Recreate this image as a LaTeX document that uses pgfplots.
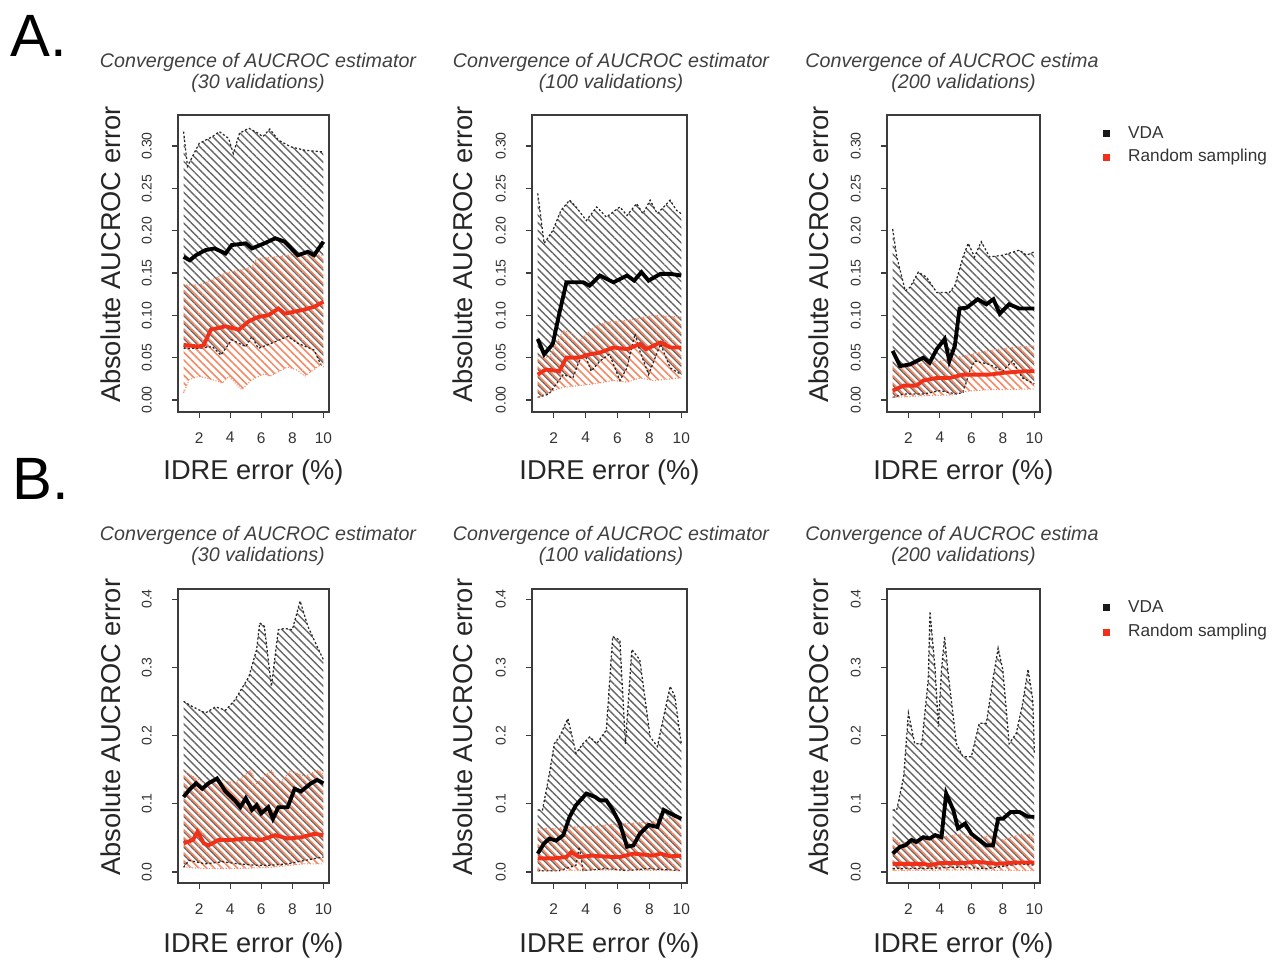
\documentclass[border=0pt]{standalone}
\usepackage{pgfplots}
\pgfplotsset{compat=1.18}
\usepgfplotslibrary{fillbetween}
\usetikzlibrary{patterns.meta}
\usepackage{fontspec}
\setmainfont{Liberation Sans}

\definecolor{rline}{RGB}{240,48,24}
\definecolor{rhatch}{RGB}{244,136,100}
\definecolor{frame}{RGB}{60,60,60}

\pgfplotsset{
  panel/.style={
    scale only axis, anchor=south west, height=5.94cm,
    xmin=0.64, xmax=10.36, xtick={2,4,6,8,10},
    axis line style={frame, line width=0.6pt},
    tick style={frame, line width=0.6pt},
    tick align=outside, major tick length=0.12cm,
    xtick pos=bottom, ytick pos=left,
    /pgf/number format/assume math mode=true,
    xticklabel style={font=\fontsize{8.8}{9}\selectfont, text=black!80, anchor=north, inner sep=0pt},
    yticklabel style={font=\fontsize{8}{8}\selectfont, text=black!80, rotate=90, anchor=south, inner sep=0pt},
    xticklabel shift=0.28cm, yticklabel shift=0.4cm,
    xlabel={IDRE error (\%)}, ylabel={Absolute AUCROC error},
    label style={font=\fontsize{15.5}{17}\selectfont, text=black!85},
    ylabel style={at={(axis description cs:-0.445,0.53)}, anchor=center},
    xlabel style={at={(axis description cs:0.5,-0.205)}, anchor=center},
  },
  rowA/.style={ymin=-0.0142, ymax=0.3366, ytick={0,0.05,0.1,0.15,0.2,0.25,0.3},
    y tick label style={/pgf/number format/.cd, fixed, fixed zerofill, precision=2}},
  rowB/.style={height=5.88cm, ymin=-0.0161, ymax=0.4147, ytick={0,0.1,0.2,0.3,0.4},
    y tick label style={/pgf/number format/.cd, fixed, fixed zerofill, precision=1},
    xlabel style={at={(axis description cs:0.5,-0.212)}}},
  bedge/.style={densely dashed, black!85, line width=0.7pt, dash pattern=on 1.2pt off 1.2pt},
  redge/.style={densely dotted, rhatch, line width=0.6pt},
  bhatch/.style={pattern={Lines[angle=-45,distance=3.1pt,line width=0.8pt]}, pattern color=black!60},
  rhatchs/.style={pattern={Lines[angle=-45,distance=3.1pt,line width=0.9pt,yshift=1.1pt]}, pattern color=rhatch},
  bmean/.style={black, line width=2.2pt},
  rmean/.style={rline, line width=2.2pt},
}

\tikzset{
  ttl/.style={font=\fontsize{11.2}{11.95}\selectfont\itshape, text=black!75, align=center},
  leg/.style={font=\fontsize{9.8}{11}\selectfont, text=black!80, anchor=west},
}

\begin{document}
\begin{tikzpicture}

% ---------- row A ----------
\begin{axis}[panel, rowA, at={(3.56cm,-8.24cm)}, width=3.02cm]
\addplot[bedge, name path=bu] coordinates {(1,0.317)(1.25,0.276)(2,0.303)(2.85,0.311)(3.3,0.317)(3.9,0.309)(4.2,0.291)(4.6,0.315)(5.2,0.321)(5.8,0.315)(6.1,0.311)(6.55,0.320)(7.1,0.307)(7.9,0.299)(8.8,0.295)(10,0.293)};
\addplot[bedge, name path=bl] coordinates {(1,0.061)(2,0.061)(2.85,0.063)(3.4,0.053)(4.1,0.071)(5,0.063)(5.4,0.075)(5.8,0.061)(6.4,0.065)(7.7,0.075)(8.35,0.067)(9.4,0.059)(9.8,0.043)(10,0.039)};
\addplot[bhatch] fill between[of=bu and bl];
\addplot[redge, name path=ru] coordinates {(1,0.136)(2,0.136)(2.85,0.142)(3.7,0.150)(4.75,0.154)(5.4,0.157)(5.7,0.167)(6.9,0.169)(8.6,0.173)(10,0.171)};
\addplot[redge, name path=rl] coordinates {(1,0.008)(1.35,0.024)(2,0.028)(2.85,0.024)(3.5,0.020)(3.9,0.028)(4.75,0.012)(5.4,0.024)(6.2,0.031)(6.55,0.028)(7.7,0.039)(8.35,0.035)(8.8,0.028)(9.6,0.039)(10,0.043)};
\addplot[rhatchs] fill between[of=ru and rl];
\addplot[bmean] coordinates {(1,0.169)(1.4,0.165)(1.8,0.171)(2.4,0.177)(3,0.179)(3.7,0.173)(4.1,0.183)(5,0.185)(5.4,0.179)(6.2,0.185)(6.9,0.191)(7.5,0.187)(8.35,0.171)(9,0.175)(9.4,0.171)(10,0.187)};
\addplot[rmean] coordinates {(1,0.065)(2,0.063)(2.3,0.065)(2.75,0.083)(3.7,0.087)(4.55,0.083)(5.2,0.093)(5.8,0.098)(6.45,0.100)(7.1,0.108)(7.5,0.102)(8.6,0.106)(9.4,0.110)(10,0.116)};
\end{axis}

\begin{axis}[panel, rowA, at={(10.64cm,-8.24cm)}, width=3.10cm]
\addplot[bedge, name path=bu] coordinates {(1,0.244)(1.4,0.185)(1.94,0.200)(2.46,0.224)(3,0.236)(3.4,0.228)(4.05,0.212)(4.7,0.228)(5.3,0.216)(6.15,0.228)(6.6,0.218)(7.2,0.232)(7.6,0.220)(8.05,0.236)(8.5,0.220)(9.3,0.236)(9.7,0.224)(10,0.220)};
\addplot[bedge, name path=bl] coordinates {(1,0.003)(1.7,0.007)(2.6,0.030)(3.2,0.026)(3.6,0.046)(3.95,0.054)(4.35,0.034)(4.9,0.046)(5.5,0.054)(6.15,0.023)(6.6,0.038)(7.1,0.078)(7.4,0.058)(7.95,0.030)(8.7,0.066)(9.3,0.038)(10,0.030)};
\addplot[bhatch] fill between[of=bu and bl];
\addplot[redge, name path=ru] coordinates {(1,0.052)(1.7,0.050)(2.6,0.082)(3.2,0.078)(3.6,0.070)(4.5,0.086)(5.3,0.092)(6.6,0.094)(8.25,0.100)(10,0.098)};
\addplot[redge, name path=rl] coordinates {(1,0.003)(1.7,0.009)(2.6,0.015)(3.6,0.017)(4.5,0.019)(5.75,0.023)(6.6,0.021)(7.4,0.026)(8.25,0.023)(10,0.026)};
\addplot[rhatchs] fill between[of=ru and rl];
\addplot[bmean] coordinates {(1,0.072)(1.4,0.054)(1.94,0.066)(2.35,0.102)(2.8,0.139)(3.85,0.139)(4.25,0.135)(4.9,0.147)(5.75,0.139)(6.6,0.147)(7.05,0.141)(7.5,0.151)(7.95,0.141)(8.7,0.149)(9.3,0.149)(10,0.147)};
\addplot[rmean] coordinates {(1,0.030)(1.5,0.036)(2.35,0.034)(2.8,0.050)(3.6,0.050)(4.25,0.054)(4.9,0.056)(5.75,0.062)(6.6,0.060)(7.4,0.066)(7.8,0.060)(8.7,0.068)(9.3,0.062)(10,0.062)};
\end{axis}

\begin{axis}[panel, rowA, at={(17.74cm,-8.24cm)}, width=3.06cm]
\addplot[bedge, name path=bu] coordinates {(1,0.202)(1.26,0.169)(1.8,0.129)(2.1,0.133)(2.63,0.151)(3.15,0.145)(3.8,0.127)(4.6,0.127)(4.95,0.135)(5.47,0.169)(5.8,0.185)(6.2,0.169)(6.63,0.187)(7.15,0.169)(8,0.171)(9.05,0.177)(9.5,0.171)(10,0.175)};
\addplot[bedge, name path=bl] coordinates {(1,0.003)(1.7,0.007)(2.95,0.007)(4,0.011)(5.05,0.007)(5.47,0.009)(5.9,0.034)(6.2,0.046)(7.15,0.042)(8,0.034)(8.6,0.046)(9.25,0.026)(10,0.019)};
\addplot[bhatch] fill between[of=bu and bl];
\addplot[redge, name path=ru] coordinates {(1,0.040)(2,0.040)(3,0.044)(4,0.046)(5.5,0.052)(7,0.058)(8.5,0.062)(10,0.064)};
\addplot[redge, name path=rl] coordinates {(1,0.003)(3,0.005)(4.8,0.006)(5.5,0.010)(7,0.012)(10,0.013)};
\addplot[rhatchs] fill between[of=ru and rl];
\addplot[bmean] coordinates {(1,0.058)(1.47,0.040)(2.1,0.042)(2.95,0.050)(3.35,0.044)(3.8,0.060)(4.3,0.072)(4.6,0.046)(4.95,0.064)(5.25,0.108)(5.7,0.109)(6.4,0.119)(6.95,0.113)(7.4,0.119)(7.8,0.102)(8.4,0.113)(9.05,0.108)(10,0.108)};
\addplot[rmean] coordinates {(1,0.011)(1.7,0.017)(2.5,0.017)(2.95,0.023)(3.8,0.026)(4.6,0.026)(5.5,0.030)(7.15,0.030)(8,0.032)(9.4,0.034)(10,0.034)};
\end{axis}

% ---------- row B ----------
\begin{axis}[panel, rowB, at={(3.56cm,-17.66cm)}, width=3.02cm]
\addplot[bedge, name path=bu] coordinates {(1,0.250)(1.6,0.242)(2.4,0.233)(3.06,0.242)(3.7,0.237)(4.3,0.252)(5.2,0.286)(5.7,0.326)(5.9,0.365)(6.2,0.360)(6.65,0.272)(7.1,0.355)(7.5,0.357)(8,0.355)(8.5,0.397)(9,0.360)(9.4,0.340)(10,0.311)};
\addplot[bedge, name path=bl] coordinates {(1,0.007)(1.35,0.017)(2.4,0.012)(3.5,0.015)(4.5,0.012)(5.6,0.010)(6.65,0.010)(7.7,0.012)(8.8,0.017)(10,0.022)};
\addplot[bhatch] fill between[of=bu and bl];
\addplot[redge, name path=ru] coordinates {(1,0.149)(1.6,0.140)(2.4,0.130)(3.5,0.135)(4.3,0.130)(5.3,0.149)(5.7,0.130)(6.65,0.149)(7.2,0.130)(7.9,0.149)(8.8,0.140)(9.6,0.149)(10,0.144)};
\addplot[redge, name path=rl] coordinates {(1,0.007)(2.4,0.005)(4.5,0.005)(6.65,0.007)(8.8,0.012)(10,0.012)};
\addplot[rhatchs] fill between[of=ru and rl];
\addplot[bmean] coordinates {(1,0.110)(1.35,0.120)(1.8,0.130)(2.2,0.122)(2.6,0.130)(3.15,0.137)(3.7,0.118)(4.3,0.105)(4.65,0.095)(5,0.108)(5.4,0.091)(5.7,0.098)(6,0.086)(6.45,0.095)(6.75,0.078)(7.1,0.095)(7.7,0.095)(8.15,0.122)(8.55,0.118)(9.2,0.130)(9.6,0.135)(10,0.130)};
\addplot[rmean] coordinates {(1,0.042)(1.6,0.047)(1.9,0.059)(2.3,0.042)(2.6,0.039)(3.25,0.047)(4.1,0.047)(5,0.049)(6,0.047)(6.9,0.054)(7.7,0.049)(8.6,0.051)(9.4,0.056)(10,0.054)};
\end{axis}

\begin{axis}[panel, rowB, at={(10.64cm,-17.66cm)}, width=3.10cm]
\addplot[bedge, name path=bu] coordinates {(1,0.091)(1.3,0.091)(1.73,0.144)(2.04,0.188)(2.36,0.198)(2.89,0.225)(3.4,0.174)(3.84,0.188)(4.26,0.198)(4.7,0.188)(5.3,0.208)(5.7,0.345)(6.15,0.340)(6.5,0.188)(6.9,0.326)(7.4,0.311)(8.05,0.198)(8.5,0.184)(9.3,0.272)(9.6,0.257)(10,0.188)};
\addplot[bedge, name path=bl] coordinates {(1,0.002)(2.36,0.002)(3.4,0.010)(3.6,0.037)(3.84,0.002)(5.3,0.005)(6.6,0.002)(7.9,0.005)(10,0.002)};
\addplot[bhatch] fill between[of=bu and bl];
\addplot[redge, name path=ru] coordinates {(1,0.064)(2.15,0.064)(3.2,0.066)(4.25,0.066)(5.3,0.069)(6.6,0.071)(7.85,0.073)(9.1,0.078)(10,0.081)};
\addplot[redge, name path=rl] coordinates {(1,0.002)(5.5,0.003)(10,0.002)};
\addplot[rhatchs] fill between[of=ru and rl];
\addplot[bmean] coordinates {(1,0.027)(1.4,0.042)(1.73,0.049)(2.15,0.046)(2.6,0.054)(3,0.081)(3.4,0.098)(4.05,0.115)(4.6,0.110)(4.9,0.105)(5.3,0.105)(5.7,0.091)(6.15,0.071)(6.6,0.037)(7,0.039)(7.4,0.056)(7.95,0.069)(8.5,0.066)(8.9,0.091)(9.3,0.086)(10,0.078)};
\addplot[rmean] coordinates {(1,0.020)(2,0.020)(2.8,0.022)(3.1,0.029)(3.6,0.022)(4.4,0.024)(5.7,0.022)(6.15,0.022)(7,0.027)(7.4,0.026)(8.25,0.024)(8.7,0.027)(9.3,0.023)(10,0.024)};
\end{axis}

\begin{axis}[panel, rowB, at={(17.74cm,-17.66cm)}, width=3.06cm]
\addplot[bedge, name path=bu] coordinates {(1,0.091)(1.26,0.091)(1.7,0.140)(2,0.233)(2.4,0.188)(2.85,0.188)(3.26,0.282)(3.37,0.382)(3.7,0.297)(3.9,0.213)(4.1,0.296)(4.3,0.345)(4.5,0.296)(5.05,0.188)(5.47,0.169)(6,0.169)(6.5,0.218)(6.95,0.218)(7.37,0.282)(7.7,0.328)(8,0.296)(8.4,0.188)(8.85,0.203)(9.26,0.247)(9.6,0.297)(9.9,0.253)(10,0.174)};
\addplot[bedge, name path=bl] coordinates {(1,0.005)(3,0.005)(5,0.007)(7,0.005)(9.1,0.012)(10,0.010)};
\addplot[bhatch] fill between[of=bu and bl];
\addplot[redge, name path=ru] coordinates {(1,0.051)(1.5,0.042)(2.95,0.049)(4,0.051)(5.47,0.056)(6.3,0.047)(7.15,0.054)(8,0.047)(9.25,0.056)(10,0.054)};
\addplot[redge, name path=rl] coordinates {(1,0.002)(5.5,0.003)(10,0.002)};
\addplot[rhatchs] fill between[of=ru and rl];
\addplot[bmean] coordinates {(1,0.027)(1.47,0.037)(1.8,0.039)(2.2,0.047)(2.5,0.044)(2.95,0.051)(3.35,0.049)(3.7,0.054)(4.1,0.051)(4.4,0.115)(4.85,0.091)(5.15,0.064)(5.6,0.071)(6,0.056)(6.5,0.047)(6.95,0.039)(7.37,0.039)(7.7,0.078)(8,0.078)(8.5,0.088)(9.05,0.088)(9.6,0.081)(10,0.081)};
\addplot[rmean] coordinates {(1,0.012)(2.95,0.012)(3.37,0.010)(4,0.013)(5.47,0.013)(6.3,0.015)(7.6,0.012)(8.85,0.014)(10,0.014)};
\end{axis}

% ---------- titles ----------
\node[ttl] at (5.16,-1.45) {Convergence of AUCROC estimator\\(30 validations)};
\node[ttl] at (12.22,-1.45) {Convergence of AUCROC estimator\\(100 validations)};
\begin{scope}
\clip (15.4,-0.8) rectangle (21.96,-2.1);
\node[ttl] at (19.27,-1.45) {Convergence of AUCROC estimator\\(200 validations)};
\end{scope}
\node[ttl] at (5.16,-10.91) {Convergence of AUCROC estimator\\(30 validations)};
\node[ttl] at (12.22,-10.91) {Convergence of AUCROC estimator\\(100 validations)};
\begin{scope}
\clip (15.4,-10.2) rectangle (21.96,-11.6);
\node[ttl] at (19.27,-10.91) {Convergence of AUCROC estimator\\(200 validations)};
\end{scope}

% ---------- panel letters ----------
\node[anchor=base west, font=\fontsize{34}{34}\selectfont, inner sep=0pt] at (0.2,-1.12) {A.};
\node[anchor=base west, font=\fontsize{34}{34}\selectfont, inner sep=0pt] at (0.24,-9.98) {B.};

% ---------- legends ----------
\fill[black!90] (22.05,-2.59) rectangle (22.19,-2.73);
\fill[rline] (22.05,-3.07) rectangle (22.19,-3.21);
\node[leg] at (22.44,-2.66) {VDA};
\node[leg] at (22.44,-3.14) {Random sampling};
\fill[black!90] (22.05,-12.07) rectangle (22.19,-12.21);
\fill[rline] (22.05,-12.57) rectangle (22.19,-12.71);
\node[leg] at (22.44,-12.14) {VDA};
\node[leg] at (22.44,-12.64) {Random sampling};

\path (0,0) rectangle (25.68,-19.18);
\end{tikzpicture}
\end{document}
